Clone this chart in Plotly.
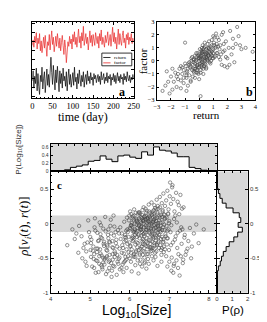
import plotly.graph_objects as go

# ---------------- panel a: time series ----------------
days = list(range(0, 251, 2))
factor_series = [1.6,2.2,1.4,2.6,1.9,3.0,1.2,2.4,1.8,2.9,1.0,2.1,0.8,1.9,2.5,1.3,2.7,1.5,0.4,2.0,1.6,2.8,1.1,2.3,3.2,1.7,2.5,0.9,1.8,2.6,
                 1.5,2.9,2.1,1.3,2.4,1.0,1.9,2.7,1.6,0.6,2.2,1.4,-0.3,1.1,2.0,1.5,2.6,1.8,2.3,1.2,
                 2.8,2.0,3.1,1.7,2.5,1.4,2.2,3.4,1.9,2.6,1.3,3.0,2.1,3.7,1.6,2.4,2.9,1.8,2.5,1.1,
                 2.3,3.2,1.9,2.7,1.5,2.8,2.2,1.6,3.0,2.4,1.8,2.6,1.3,2.9,2.1,3.3,1.7,2.5,2.0,1.4,
                 2.7,1.9,2.4,3.1,1.6,2.2,2.8,1.5,2.6,3.6,2.0,3.0,1.8,2.5,1.2,2.3,3.4,1.7,2.9,2.1,
                 1.6,2.7,3.2,1.9,2.4,1.3,2.8,2.2,3.0,1.7,2.5,2.1,2.9,1.8,2.4,2.0]
return_series = [-2.3,-1.2,-3.1,-1.8,-2.6,-0.9,-3.4,-1.5,-2.9,-3.8,-1.7,-2.4,-0.8,-3.2,-2.0,-1.3,-3.6,-2.2,-1.0,-2.8,
                 -1.6,-3.0,-0.5,0.3,-1.4,-2.7,-0.6,-2.1,-3.3,-1.1,-2.5,-0.7,-1.9,-3.5,-1.2,-2.6,-1.5,-3.1,-0.9,-2.3,
                 -1.8,-2.9,-1.3,-3.4,-2.0,-1.0,-2.7,-1.6,-3.0,-2.2,-1.4,-2.8,-0.8,-2.4,-1.9,-3.2,-1.5,-2.6,-1.1,-2.1,
                 -2.9,-1.7,-2.4,-1.3,-3.0,-2.0,-1.6,-2.7,-1.2,-2.3,-1.8,-2.6,-1.4,-2.2,-1.9,-2.8,-1.5,-2.1,-1.7,-2.5,
                 -2.0,-1.6,-2.4,-1.8,-2.7,-1.3,-2.2,-2.0,-1.5,-2.6,-1.9,-2.3,-1.4,-2.5,-1.8,-2.1,-1.6,-2.8,-1.9,-2.2,
                 -1.5,-2.4,-1.7,-2.6,-2.0,-1.4,-2.3,-1.8,-2.5,-1.6,-2.1,-1.9,-2.7,-1.5,-2.2,-1.8,-2.4,-1.3,-2.0,-2.3,
                 -1.7,-2.5,-1.9,-2.2,-1.6,-2.0]
time_ticks = [0, 50, 100, 150, 200, 250]

# ---------------- panel b: return vs factor ----------------
return_b = [-2.6,-2.4,-2.3,-2.1,-2.0,-1.9,-1.8,-1.7,-1.6,-1.5,
            -1.4,-1.3,-1.2,-1.1,-1.0,-0.95,-0.9,-0.85,-0.8,-0.75,
            -0.7,-0.65,-0.6,-0.55,-0.5,-0.45,-0.4,-0.35,-0.3,-0.25,
            -0.2,-0.15,-0.1,-0.05,0.0,0.05,0.1,0.15,0.2,0.25,
            0.3,0.35,0.4,0.45,0.5,0.55,0.6,0.65,0.7,0.75,
            0.8,0.85,0.9,0.95,1.0,1.05,1.1,1.15,1.2,1.25,
            1.3,1.4,1.5,1.6,1.7,1.8,1.9,2.0,2.1,2.2,
            2.3,2.4,2.5,2.6,2.7,2.8,3.0,3.3,3.8,2.15,
            -0.3,-0.2,-0.1,0.0,0.1,0.2,0.3,0.4,0.5,0.6,
            -0.25,-0.15,-0.05,0.05,0.15,0.25,0.35,0.45,0.55,0.65,
            -0.4,-0.3,-0.2,-0.1,0.0,0.1,0.2,0.3,0.4,0.5,
            0.6,0.7,0.8,0.9,1.0,0.45,0.35,0.25,0.15,0.05,
            -1.2,-1.0,-0.9,-0.8,-0.7,-0.6,-0.5,-0.4,-0.3,-0.2,
            0.0,0.1,0.2,0.3,0.4,0.5,0.6,0.7,0.8,0.9,
            1.0,1.1,1.2,1.3,1.4,1.5,1.6,1.7,1.8,1.9,
            -2.2,-1.9,-1.6,-1.3,-1.1,-0.9,-0.6,-0.4,-0.1,0.1,
            0.3,0.55,0.75,0.95,1.15,1.35,1.55,1.75,2.0,2.4,
            -0.55,-0.45,-0.35,-0.15,0.0,0.2,0.4,0.6,0.8,1.0,
            -1.5,-1.3,-1.1,-0.9,-0.7,0.65,0.85,1.05,1.25,1.45,
            0.1,0.2,0.3,-0.05,0.15,0.25,0.5,0.7,0.9,2.9]
factor_b = [-2.3,-1.9,-0.8,-2.5,-1.2,-2.2,-1.6,-0.9,-2.0,-1.4,
            -0.6,-2.1,-1.0,-1.7,1.4,-0.4,-1.3,-0.8,-1.9,-0.2,
            -1.1,-0.5,-1.5,0.2,-0.7,-1.2,-0.1,-0.9,0.4,-0.6,
            0.1,-0.4,0.6,-1.0,0.0,0.3,-0.7,0.8,-0.3,0.5,
            0.2,1.0,-0.2,0.6,0.9,0.1,1.3,0.4,0.7,-0.1,
            1.1,0.5,1.6,0.2,0.9,1.4,0.3,1.0,2.1,0.6,
            1.8,0.3,1.2,-0.3,2.2,0.8,1.5,-0.5,1.0,2.3,
            0.5,1.7,-0.1,1.3,2.6,1.9,0.9,1.0,0.7,-0.3,
            -0.2,0.3,-0.5,0.5,0.1,-0.1,0.7,0.0,0.3,0.8,
            0.0,-0.3,0.2,-0.2,0.4,0.1,-0.4,0.5,0.2,0.4,
            -0.8,-0.6,-0.9,-0.3,-0.5,0.4,0.6,0.9,1.1,0.5,
            0.1,0.9,0.3,1.2,0.6,-0.3,0.3,0.7,-0.2,0.9,
            -0.5,-0.2,-0.9,-0.6,-0.1,-0.4,0.3,-0.6,-1.3,0.6,
            -1.4,-0.9,1.0,-0.6,1.4,-0.5,0.0,1.5,-0.2,0.7,
            0.2,1.8,1.1,0.6,1.6,0.1,2.0,0.7,-0.4,0.3,
            -1.6,-0.6,-1.2,-1.5,-0.7,-2.3,-1.6,0.1,-0.9,-2.7,
            -1.0,0.6,0.2,0.8,0.4,1.1,0.5,1.3,0.2,1.0,
            0.0,-0.3,0.1,-0.7,0.2,-0.5,0.2,0.5,0.6,1.9,
            -1.0,-0.4,-1.3,-1.1,-0.3,1.0,0.0,1.2,1.3,0.9,
            0.2,0.7,-0.1,0.4,-0.4,1.2,-0.6,1.0,0.4,1.2]

# ---------------- panel c: rho vs log10 size ----------------
log_size = [4.42,4.55,4.61,4.70,4.78,4.83,4.88,4.93,4.97,5.02,
            5.05,5.08,5.11,5.14,5.17,5.20,5.23,5.26,5.29,5.31,
            5.34,5.36,5.39,5.41,5.44,5.46,5.49,5.51,5.53,5.56,
            5.58,5.60,5.63,5.65,5.67,5.70,5.72,5.74,5.77,5.79,
            4.95,5.00,5.12,5.18,5.24,5.33,5.38,5.45,5.52,5.59,
            5.07,5.15,5.22,5.28,5.35,5.42,5.48,5.55,5.62,5.69,
            4.65,4.72,4.86,4.90,5.03,5.10,5.19,5.27,5.37,5.43,
            5.50,5.57,5.64,5.71,5.76,5.81,5.84,5.87,5.89,5.92,
            5.21,5.30,5.40,5.47,5.54,5.61,5.68,5.75,5.82,5.88,
            5.13,5.25,5.32,5.46,5.58,5.66,5.73,5.80,5.86,5.91,
            5.95,5.98,6.01,6.03,6.06,6.08,6.11,6.13,6.15,6.18,
            6.20,6.22,6.24,6.27,6.29,6.31,6.33,6.35,6.37,6.39,
            6.41,6.43,6.45,6.47,6.49,6.51,6.53,6.55,6.57,6.59,
            6.61,6.63,6.65,6.67,6.69,6.71,6.73,6.75,6.77,6.79,
            5.86,5.90,5.93,5.97,6.00,6.04,6.07,6.10,6.14,6.17,
            6.19,6.23,6.26,6.28,6.32,6.34,6.36,6.40,6.42,6.46,
            6.48,6.50,6.54,6.56,6.58,6.62,6.64,6.66,6.70,6.72,
            6.74,6.78,6.81,6.84,6.87,6.90,6.83,6.86,6.80,6.76,
            5.83,5.88,5.94,5.99,6.05,6.09,6.12,6.16,6.21,6.25,
            6.30,6.33,6.38,6.44,6.46,6.52,6.56,6.60,6.64,6.68,
            6.02,6.07,6.12,6.18,6.23,6.28,6.34,6.39,6.44,6.49,
            6.53,6.58,6.63,6.68,6.73,6.78,6.82,6.88,6.93,6.97,
            5.91,5.96,6.03,6.09,6.14,6.20,6.26,6.31,6.37,6.42,
            6.01,6.06,6.11,6.16,6.21,6.27,6.32,6.36,6.41,6.47,
            6.52,6.57,6.61,6.66,6.71,6.75,6.79,6.85,6.89,6.94,
            6.24,6.29,6.35,6.40,6.45,6.50,6.55,6.59,6.65,6.70,
            5.97,6.02,6.08,6.13,6.19,6.25,6.30,6.35,6.41,6.46,
            6.51,6.57,6.62,6.67,6.72,6.77,6.82,6.86,6.91,6.95,
            5.85,5.92,6.00,6.05,6.10,6.15,6.22,6.27,6.33,6.38,
            6.43,6.48,6.54,6.60,6.65,6.70,6.74,6.80,6.85,6.92,
            6.35,6.48,6.55,6.62,6.68,6.72,6.76,6.81,6.85,6.89,
            6.92,6.95,6.98,7.01,7.04,7.07,7.10,7.13,7.17,7.21,
            7.24,7.28,7.32,7.36,7.02,7.08,6.97,6.93,7.15,7.25,
            6.58,6.64,6.70,6.83,6.88,7.00,7.05,7.12,7.19,7.30,
            6.96,6.99,7.03,7.06,7.09,7.12,7.16,7.20,7.23,7.27,
            7.31,7.35,7.39,7.43,7.48,7.52,7.57,7.62,7.68,7.74,
            6.95,7.00,7.05,7.11,7.18,7.22,7.29,7.34,7.41,7.46,
            6.98,7.04,7.10,7.14,7.21,7.26,7.33,7.38,7.55,7.87,
            6.04,6.10,6.17,6.22,6.28,6.33,6.38,6.43,6.50,6.55,
            6.60,6.66,6.71,6.76,6.81,6.26,6.31,6.36,6.42,6.47,
            5.94,5.99,6.05,6.11,6.17,6.23,6.29,6.34,6.40,6.45,
            6.51,6.56,6.61,6.67,6.72,6.78,6.83,6.88,6.55,6.63,
            5.02,5.09,5.16,5.23,5.30,5.36,5.43,5.49,5.56,5.62,
            5.68,5.74,5.80,5.85,5.90,5.27,5.35,5.44,5.53,5.61,
            6.03,6.08,6.14,6.19,6.25,6.30,6.36,6.41,6.46,6.52,
            6.58,6.63,6.69,6.74,6.79,6.84,6.89,6.94,6.99,6.86,
            4.80,4.91,5.01,5.10,5.18,5.26,5.33,5.41,5.48,5.57,
            6.12,6.18,6.24,6.30,6.37,6.43,6.49,6.54,6.61,6.67]
rho = [-0.31,-0.08,-0.22,-0.42,-0.18,-0.35,-0.55,-0.27,-0.12,-0.48,
       -0.62,-0.33,-0.05,-0.71,-0.41,-0.25,-0.58,-0.15,-0.46,-0.66,
       -0.29,-0.52,-0.11,-0.38,-0.69,-0.21,-0.45,-0.03,-0.57,-0.34,
       -0.61,-0.17,-0.43,-0.28,-0.74,-0.09,-0.51,-0.36,-0.22,-0.64,
       0.05,-0.19,0.08,-0.13,0.02,-0.07,0.10,-0.16,0.06,0.12,
       -0.39,-0.53,-0.24,-0.60,-0.32,-0.47,-0.26,-0.68,-0.40,-0.55,
       -0.14,-0.03,-0.29,-0.40,-0.23,-0.44,-0.36,-0.20,-0.50,-0.31,
       -0.27,-0.44,-0.12,-0.58,-0.05,-0.31,-0.70,-0.19,-0.48,-0.37,
       -0.70,-0.63,-0.73,-0.55,-0.77,-0.62,-0.45,-0.66,-0.59,-0.54,
       -0.10,-0.37,-0.49,-0.08,-0.35,-0.23,-0.14,-0.42,-0.26,-0.10,
       -0.12,0.05,-0.33,-0.02,-0.21,0.11,-0.44,-0.08,0.16,-0.27,
       0.02,-0.15,0.08,-0.36,-0.04,0.13,-0.22,0.00,-0.49,0.07,
       -0.09,0.19,-0.28,0.04,-0.13,0.10,-0.40,-0.03,0.15,-0.19,
       0.06,-0.31,-0.06,0.21,-0.17,0.01,-0.25,0.12,-0.10,-0.38,
       0.03,-0.24,0.09,-0.41,-0.06,0.14,-0.18,0.06,-0.30,-0.01,
       -0.11,0.17,-0.07,0.10,-0.26,0.04,-0.14,0.22,-0.05,0.09,
       -0.23,0.02,-0.08,0.13,-0.35,-0.02,0.08,-0.20,0.17,-0.04,
       0.05,-0.12,0.10,-0.27,-0.01,-0.15,0.18,-0.33,-0.45,0.24,
       -0.35,-0.16,-0.29,0.12,-0.37,-0.20,0.00,-0.39,-0.28,-0.43,
       -0.33,-0.45,-0.30,-0.37,-0.51,-0.29,-0.47,-0.21,-0.42,-0.30,
       -0.07,0.08,-0.10,0.04,-0.03,-0.09,0.06,-0.12,0.01,0.11,
       -0.06,0.03,-0.14,0.09,-0.08,0.02,-0.19,0.07,-0.03,0.14,
       -0.52,-0.47,-0.55,-0.46,-0.60,-0.53,-0.58,-0.62,-0.57,-0.65,
       0.18,-0.04,0.21,-0.13,0.15,0.03,0.20,-0.18,0.12,-0.06,
       0.16,-0.26,0.20,-0.11,0.26,-0.07,0.13,-0.22,0.08,-0.30,
       -0.01,-0.08,0.05,-0.02,0.07,-0.11,0.00,0.03,-0.05,-0.13,
       -0.19,-0.32,-0.25,-0.16,-0.34,-0.21,-0.17,-0.24,-0.32,-0.16,
       -0.34,-0.16,-0.28,-0.40,-0.19,-0.31,-0.09,-0.41,-0.18,-0.10,
       -0.56,-0.64,-0.50,-0.69,-0.48,-0.41,-0.72,-0.52,-0.39,-0.55,
       -0.44,-0.58,-0.36,-0.53,-0.48,-0.61,-0.35,-0.55,-0.26,-0.47,
       0.24,0.28,0.31,0.27,0.35,0.22,0.39,0.30,0.44,0.26,
       0.34,0.48,0.21,0.40,0.29,0.53,0.36,0.18,0.45,0.32,
       0.27,0.42,0.22,0.24,0.60,0.56,0.15,0.09,0.12,0.14,
       0.18,0.23,0.15,0.20,0.13,0.04,-0.02,0.07,0.02,-0.05,
       -0.21,-0.38,-0.12,-0.49,-0.27,-0.58,-0.18,-0.35,-0.44,-0.10,
       -0.29,-0.52,-0.16,-0.40,-0.25,-0.06,-0.33,-0.14,-0.01,-0.28,
       -0.62,-0.55,-0.68,-0.61,-0.53,-0.64,-0.47,-0.57,-0.45,-0.36,
       -0.08,-0.31,-0.71,-0.23,-0.13,-0.75,-0.08,-0.20,-0.50,-0.08,
       -0.02,-0.23,0.07,-0.17,-0.05,-0.29,0.10,-0.21,-0.01,-0.11,
       0.05,-0.24,-0.02,0.09,-0.35,0.15,-0.12,-0.05,-0.26,0.03,
       -0.08,-0.27,0.01,-0.12,0.05,-0.38,0.01,-0.15,0.06,-0.33,
       0.08,-0.18,-0.07,0.04,-0.27,-0.03,0.02,-0.09,-0.39,0.11,
       -0.28,-0.51,-0.36,-0.47,-0.21,-0.59,-0.39,-0.53,-0.25,-0.48,
       -0.33,-0.49,-0.14,-0.43,-0.20,-0.02,-0.26,-0.33,-0.14,-0.04,
       -0.42,-0.11,-0.48,-0.06,-0.45,0.08,-0.40,0.16,-0.44,-0.24,
       -0.14,-0.36,-0.31,-0.16,-0.22,-0.05,-0.37,-0.21,0.01,0.14,
       -0.50,-0.61,-0.38,-0.64,-0.54,-0.43,-0.56,-0.49,-0.64,-0.52,
       0.12,-0.19,0.16,-0.33,0.11,-0.08,0.18,-0.34,0.14,0.00]

size_edges = [4.2,4.35,4.5,4.65,4.8,4.95,5.1,5.25,5.4,5.55,5.7,5.85,6.0,6.15,6.3,6.45,
              6.6,6.75,6.9,7.05,7.2,7.35,7.5,7.65,7.8,7.95,8.1]
size_hist = [0.01,0.04,0.10,0.13,0.16,0.25,0.27,0.38,0.30,0.24,0.38,0.40,0.35,0.32,0.48,0.40,
             0.60,0.52,0.50,0.45,0.36,0.36,0.10,0.07,0.03,0.01]
rho_edges = [-0.75,-0.68,-0.61,-0.54,-0.47,-0.40,-0.33,-0.26,-0.19,-0.12,-0.05,0.02,0.09,
             0.16,0.23,0.30,0.37,0.44,0.51,0.58,0.65]
rho_hist = [0.03,0.10,0.22,0.30,0.42,0.60,0.80,1.10,1.35,1.65,1.38,1.55,1.45,1.05,0.60,
            0.35,0.20,0.10,0.04,0.01]
band_rho = [-0.12, 0.12]

W, H = 267, 322
def px(x):
    return x / W
def py(y):
    return 1 - y / H

SERIF = "Liberation Serif"
SANS = "Liberation Sans"
GREY = "rgb(216,216,216)"

fig = go.Figure()
# panel a
fig.add_trace(go.Scatter(x=days, y=factor_series, mode="lines",
                         line=dict(color="rgb(232,40,40)", width=0.7), xaxis="x", yaxis="y"))
fig.add_trace(go.Scatter(x=days, y=return_series, mode="lines",
                         line=dict(color="black", width=0.7), xaxis="x", yaxis="y"))
# panel b
fig.add_trace(go.Scatter(x=return_b, y=factor_b, mode="markers",
                         marker=dict(symbol="circle-open", size=3.2, color="#444",
                                     line=dict(width=0.6)), xaxis="x2", yaxis="y2"))
# top histogram
hx = [4.0] + size_edges + [8.2]
hy = [0] + size_hist + [0, 0]
fig.add_trace(go.Scatter(x=hx, y=hy, mode="lines", line=dict(color="black", width=1, shape="hv"),
                         fill="tozeroy", fillcolor="white", xaxis="x3", yaxis="y3"))
# main scatter c
fig.add_trace(go.Scatter(x=log_size, y=rho, mode="markers",
                         marker=dict(symbol="circle-open", size=3.4, color="#222",
                                     line=dict(width=0.6)), opacity=0.8, xaxis="x4", yaxis="y4"))
# right histogram
ry = [-1.0] + rho_edges + [0.76]
rx = [0] + rho_hist + [0, 0]
fig.add_trace(go.Scatter(x=rx, y=ry, mode="lines", line=dict(color="black", width=1, shape="vh"),
                         fill="tozerox", fillcolor="white", xaxis="x5", yaxis="y5"))

base = dict(showline=True, linecolor="black", linewidth=1, mirror="allticks", ticks="inside",
            tickcolor="black", showgrid=False, zeroline=False)

lay = dict(
    width=W, height=H, autosize=False, showlegend=False,
    margin=dict(l=0, r=0, t=0, b=0), paper_bgcolor="white", plot_bgcolor="white",
    xaxis=dict(base, domain=[px(22), px(127)], anchor="y", range=[0, 250], tickvals=time_ticks,
               ticklen=3, minor=dict(ticks="inside", ticklen=1.5, dtick=10, tickcolor="black"),
               tickfont=dict(family=SERIF, size=8.5, color="black")),
    yaxis=dict(base, domain=[py(88), py(10)], anchor="x", range=[-4.2, 4.2], dtick=1,
               ticklen=3, showticklabels=False),
    xaxis2=dict(base, domain=[px(151), px(253)], anchor="y2", range=[-3, 4], dtick=1, ticklen=2.5,
                tickfont=dict(family=SERIF, size=6.5, color="black")),
    yaxis2=dict(base, domain=[py(90), py(10)], anchor="x2", range=[-3, 3], dtick=1, ticklen=2.5,
                tickfont=dict(family=SERIF, size=6.5, color="black")),
    xaxis3=dict(base, domain=[px(41), px(213)], anchor="y3", range=[4, 8.2], dtick=1, ticklen=3,
                showticklabels=False, minor=dict(ticks="inside", ticklen=1.5, dtick=0.2, tickcolor="black")),
    yaxis3=dict(base, domain=[py(163), py(135)], anchor="x3", range=[0, 0.67],
                tickvals=[0, 0.2, 0.4, 0.6], ticktext=["0", "0.2", "0.4", "0.6"], ticklen=2,
                tickfont=dict(family=SANS, size=5, color="#333")),
    xaxis4=dict(base, domain=[px(41), px(213)], anchor="y4", range=[4, 8.2],
                tickvals=[4, 5, 6, 7, 8], ticklen=3,
                minor=dict(ticks="inside", ticklen=1.5, dtick=0.2, tickcolor="black"),
                tickfont=dict(family=SANS, size=6, color="#333")),
    yaxis4=dict(base, domain=[py(287), py(163)], anchor="x4", range=[-1, 0.76],
                tickvals=[-1, -0.5, 0, 0.5], ticktext=["-1", "-0.5", "0", "0.5"], ticklen=3,
                minor=dict(ticks="inside", ticklen=1.5, dtick=0.1, tickcolor="black"),
                tickfont=dict(family=SANS, size=6, color="#333")),
    xaxis5=dict(base, domain=[px(213), px(245)], anchor="y5", range=[0, 2],
                tickvals=[0, 1, 2], ticklen=2,
                minor=dict(ticks="inside", ticklen=1.5, dtick=0.5, tickcolor="black"),
                tickfont=dict(family=SANS, size=6, color="#333")),
    yaxis5=dict(base, domain=[py(287), py(163)], anchor="x5", range=[-1, 0.76], side="right",
                tickvals=[-1, -0.5, 0, 0.5], ticktext=["-1", "-0.5", "0", "0.5"], ticklen=3,
                tickfont=dict(family=SANS, size=6, color="#333")),
)
fig.update_layout(**lay)

shapes = [
    dict(type="rect", xref="x3 domain", yref="y3 domain", x0=0, x1=1, y0=0, y1=1,
         fillcolor=GREY, line=dict(width=0), layer="below"),
    dict(type="rect", xref="x5 domain", yref="y5 domain", x0=0, x1=1, y0=0, y1=1,
         fillcolor=GREY, line=dict(width=0), layer="below"),
    dict(type="rect", xref="x4 domain", yref="y4", x0=0, x1=1, y0=band_rho[0], y1=band_rho[1],
         fillcolor=GREY, line=dict(width=0), layer="below"),
    # legend box of panel a
    dict(type="rect", xref="paper", yref="paper", x0=px(94), x1=px(125), y0=py(55), y1=py(42),
         fillcolor="white", line=dict(color="black", width=0.8)),
    dict(type="line", xref="paper", yref="paper", x0=px(95.5), x1=px(103), y0=py(46.5), y1=py(46.5),
         line=dict(color="black", width=0.8)),
    dict(type="line", xref="paper", yref="paper", x0=px(95.5), x1=px(103), y0=py(52), y1=py(52),
         line=dict(color="rgb(232,40,40)", width=0.8)),
]
fig.update_layout(shapes=shapes)

def ann(text, x, y, size, family, angle=0, color="black", xanchor="center"):
    return dict(text=text, x=px(x), y=py(y), xref="paper", yref="paper", showarrow=False,
                font=dict(family=family, size=size, color=color), textangle=angle,
                xanchor=xanchor, yanchor="middle")

annotations = [
    ann("return", 105, 46.5, 5, SERIF, xanchor="left"),
    ann("factor", 105, 52, 5, SERIF, xanchor="left"),
    ann("<b>a</b>", 115, 82, 12, SERIF),
    ann("<b>b</b>", 247, 82, 12, SERIF),
    ann("<b>c</b>", 50, 177, 11, SERIF),
    ann("time (day)", 75, 107, 12, SERIF),
    ann("return", 202, 105, 11, SERIF),
    ann("factor", 137, 50, 11, SERIF, angle=-90),
    ann("P(Log<sub>10</sub>[Size])", 8, 140, 8, SANS, angle=-90, color="#333"),
    ann("<i>ρ</i>[<i>v</i><sub><i>i</i></sub>(<i>t</i>), <i>r</i>(<i>t</i>)]", 14, 220, 13, SERIF, angle=-90),
    ann("Log<sub>10</sub>[Size]", 130, 306, 14, SANS),
    ann("P(ρ)", 230, 305, 11.5, SANS),
]
fig.update_layout(annotations=annotations)

fig.write_html("out.html")
